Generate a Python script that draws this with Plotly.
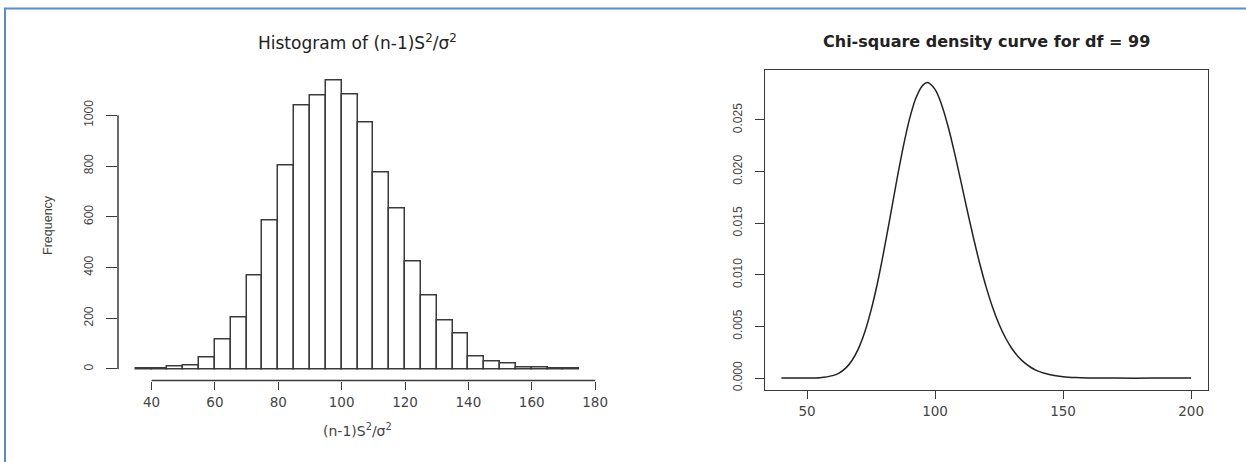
import plotly.graph_objects as go

# histogram of (n-1)S^2/sigma^2, bins of width 5 from 35 to 175
bin_left = [35, 40, 45, 50, 55, 60, 65, 70, 75, 80, 85, 90, 95, 100,
            105, 110, 115, 120, 125, 130, 135, 140, 145, 150, 155, 160, 165, 170]
bin_width = 5
counts = [3, 3, 10, 16, 46, 117, 205, 369, 585, 804, 1039, 1080, 1136, 1084,
          972, 775, 635, 426, 289, 190, 140, 51, 28, 21, 5, 5, 2, 2]

# chi-square density
chi_x = [40, 45, 50, 55, 60, 62.5, 65, 67.5, 70, 72.5, 75, 77.5, 80, 82.5,
         85, 87.5, 90, 92.5, 95, 97, 100, 102.5, 105, 107.5, 110, 112.5,
         115, 117.5, 120, 122.5, 125, 127.5, 130, 132.5, 135, 137.5, 140,
         145, 150, 155, 160, 170, 185, 200]
chi_y = [0.0, 0.0, 0.000005, 0.00004, 0.00024, 0.00049, 0.00094, 0.00168,
         0.00281, 0.00441, 0.00656, 0.00919, 0.01229, 0.01565, 0.01907,
         0.02230, 0.02506, 0.02710, 0.02830, 0.02862, 0.02796, 0.02653,
         0.02446, 0.02194, 0.01917, 0.01633, 0.01359, 0.01105, 0.00879,
         0.00684, 0.00522, 0.00391, 0.00287, 0.00207, 0.00147, 0.00103,
         0.00070, 0.00032, 0.00013, 0.00005, 0.00002, 0.0, 0.0, 0.0]

hist_xticks = [40, 60, 80, 100, 120, 140, 160, 180]
hist_yticks = [0, 200, 400, 600, 800, 1000]
chi_xticks = [50, 100, 150, 200]
chi_yticks = [0.0, 0.005, 0.010, 0.015, 0.020, 0.025]

W, H = 1246, 462
WIDE = "DejaVu Sans, Verdana, sans-serif"      # the source image is stretched sideways
NARROW = "Liberation Sans, Arial, sans-serif"  # for rotated labels
INK = "#3a3a3a"

centers = [b + bin_width / 2 for b in bin_left]

fig = go.Figure()
fig.add_trace(go.Bar(
    x=centers, y=counts, width=bin_width,
    marker=dict(color="white", line=dict(color=INK, width=1.5)),
    xaxis="x", yaxis="y", showlegend=False
))
fig.add_trace(go.Scatter(
    x=chi_x, y=chi_y, mode="lines",
    line=dict(color="#222", width=1.5, shape="spline", smoothing=0.9),
    xaxis="x2", yaxis="y2", showlegend=False
))

# domains from pixel positions of the R plot regions
L_x = [118 / W, 597 / W]
L_y = [(H - 380.5) / H, (H - 69.4) / H]
R_x = [765 / W, 1207.5 / W]
R_y = [(H - 390) / H, (H - 70.4) / H]

xtick_font = dict(family=WIDE, size=13.5, color="#444")
ytick_font = dict(family=NARROW, size=12, color="#444")
base = dict(showgrid=False, zeroline=False, ticks="outside",
            tickwidth=1.2, tickcolor=INK, automargin=False)

fig.update_layout(
    width=W, height=H,
    margin=dict(l=0, r=0, t=0, b=0),
    paper_bgcolor="white", plot_bgcolor="white",
    font=dict(family=WIDE, size=13, color="#333"),
    bargap=0,
    xaxis=dict(domain=L_x, range=[29.4, 180.6], tickvals=hist_xticks,
               ticklen=8, tickfont=xtick_font, ticklabelstandoff=1,
               showline=False, anchor="y", **base),
    yaxis=dict(domain=L_y, range=[-45.4, 1181], tickvals=hist_yticks,
               ticklen=11, tickfont=ytick_font, tickangle=-90, ticklabelstandoff=8,
               showline=False, anchor="x", **base),
    xaxis2=dict(domain=R_x, range=[33.6, 206.4], tickvals=chi_xticks,
                ticklen=8, tickfont=xtick_font, ticklabelstandoff=1,
                showline=True, mirror=True, linecolor=INK, linewidth=1.3,
                anchor="y2", **base),
    yaxis2=dict(domain=R_y, range=[-0.00115, 0.0298], tickvals=chi_yticks,
                tickformat=".3f", ticklen=9, tickfont=ytick_font,
                tickangle=-90, ticklabelstandoff=8,
                showline=True, mirror=True, linecolor=INK, linewidth=1.3,
                anchor="x2", **base),
)

# R style axis lines, only as long as the tick range
fig.add_shape(type="line", xref="x", yref="paper", x0=40, x1=180,
              y0=L_y[0], y1=L_y[0], line=dict(color=INK, width=1.3))
fig.add_shape(type="line", xref="paper", yref="y", x0=L_x[0], x1=L_x[0],
              y0=0, y1=1000, line=dict(color=INK, width=1.5))

# page border (blue frame of the document)
fig.add_shape(type="rect", xref="paper", yref="paper",
              x0=5 / W, x1=1.02, y0=-0.02, y1=1 - 8.5 / H,
              line=dict(color="#5b8bd0", width=2))

fig.add_annotation(text="Histogram of (n-1)S<sup>2</sup>/σ<sup>2</sup>",
                   xref="paper", yref="paper", x=sum(L_x) / 2, y=1 - 42 / H,
                   showarrow=False, font=dict(family=WIDE, size=17, color="#222"),
                   xanchor="center", yanchor="middle")
fig.add_annotation(text="<b>Chi-square density curve for df = 99</b>",
                   xref="paper", yref="paper", x=sum(R_x) / 2, y=1 - 41 / H,
                   showarrow=False, font=dict(family=WIDE, size=16, color="#222"),
                   xanchor="center", yanchor="middle")
fig.add_annotation(text="(n-1)S<sup>2</sup>/σ<sup>2</sup>",
                   xref="paper", yref="paper", x=sum(L_x) / 2, y=1 - 430 / H,
                   showarrow=False, font=dict(family=WIDE, size=14, color="#444"),
                   xanchor="center", yanchor="middle")
fig.add_annotation(text="Frequency", textangle=-90,
                   xref="paper", yref="paper", x=48 / W, y=sum(L_y) / 2,
                   showarrow=False, font=dict(family=NARROW, size=12.5, color="#444"),
                   xanchor="center", yanchor="middle")

# the page body has a default 8px margin; drop it so the figure fills the window
fig.write_html("out.html", config={"displayModeBar": False},
               post_script="document.body.style.margin='0';")
